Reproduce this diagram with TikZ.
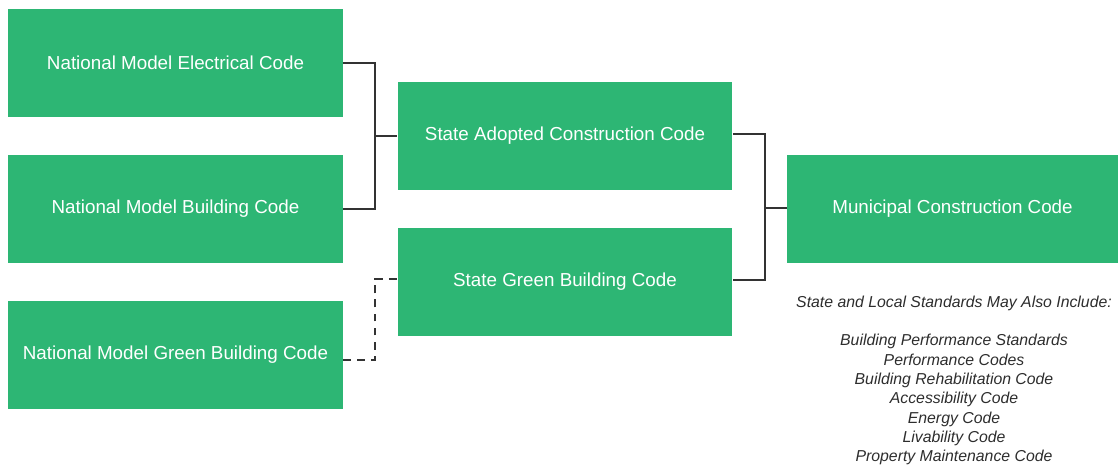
\documentclass[tikz,border=0pt]{standalone}
\usepackage{fontspec}
\setmainfont{Liberation Sans}
\usepackage{tikz}
\definecolor{codegreen}{RGB}{45,182,116}
\definecolor{linegray}{RGB}{51,51,51}
\definecolor{notegray}{RGB}{45,45,45}

\tikzset{
  codebox/.style={fill=codegreen, text=white, minimum width=6.7cm, minimum height=2.16cm,
    inner sep=0pt, font=\fontsize{10.7}{13}\selectfont},
  conn/.style={draw=linegray, line width=0.85pt},
  dashconn/.style={conn, dash pattern=on 4.5pt off 3.5pt}
}

\begin{document}
\begin{tikzpicture}[x=0.02cm,y=-0.02cm]
  \useasboundingbox (0,0) rectangle (1118,468);
  \node[codebox] (nmec) at (175.5,63) {National Model Electrical Code};
  \node[codebox] (nmbc) at (175.5,209) {National Model Building Code};
  \node[codebox] (nmgbc) at (175.5,354.5) {National Model Green Building Code};
  \node[codebox] (sacc) at (565,136) {State Adopted Construction Code};
  \node[codebox] (sgbc) at (565,282) {State Green Building Code};
  \node[codebox, minimum width=6.62cm] (mcc) at (952.5,209) {Municipal Construction Code};

  \coordinate (jl) at (375,136);
  \coordinate (jd) at (375,279);
  \coordinate (jr) at (765,208);

  \path[conn] (nmec.east) -| (jl) |- (nmbc.east);
  \path[conn] (jl) -- (sacc.west);
  \path[dashconn] ([yshift=-0.11cm]nmgbc.east) -| (jd) -- (sgbc.west |- jd);
  \path[conn] ([yshift=0.04cm]sacc.east) -| (jr) |- ([yshift=0.04cm]sgbc.east);
  \path[conn] (jr) -- (mcc.west |- jr);

  \node[anchor=north, align=center, text=notegray, inner sep=0pt,
        font=\fontsize{9}{11}\selectfont\itshape] (notes) at (954,295.5)
    {State and Local Standards May Also Include:\\[11pt]
     Building Performance Standards\\
     Performance Codes\\
     Building Rehabilitation Code\\
     Accessibility Code\\
     Energy Code\\
     Livability Code\\
     Property Maintenance Code};
\end{tikzpicture}
\end{document}
